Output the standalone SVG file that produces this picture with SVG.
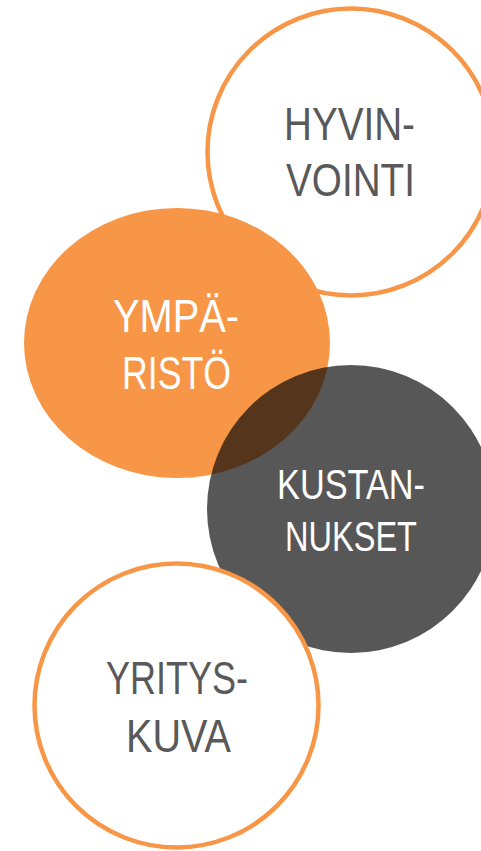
<svg xmlns="http://www.w3.org/2000/svg" width="481" height="851" viewBox="0 0 481 851">
<style>
.ring{fill:#ffffff;stroke:#F79646;stroke-width:4.5}
.t{font-family:"Liberation Sans",Arial,sans-serif;font-size:46px}
.g{fill:#595959}
.w{fill:#ffffff}
</style>
<rect width="481" height="851" fill="#ffffff"/>
<g id="hyvinvointi">
<circle class="ring" cx="351" cy="152" r="143.5"/>
<text class="t g" x="284" y="140" textLength="131" lengthAdjust="spacingAndGlyphs">HYVIN-</text>
<text class="t g" x="286" y="196" textLength="129" lengthAdjust="spacingAndGlyphs">VOINTI</text>
</g>
<g id="ymparisto">
<ellipse cx="177" cy="343" rx="153" ry="135" fill="#F79646"/>
<text class="t w" x="113" y="332" textLength="126" lengthAdjust="spacingAndGlyphs">YMPÄ-</text>
<text class="t w" x="122" y="389" textLength="109" lengthAdjust="spacingAndGlyphs">RISTÖ</text>
</g>
<g id="kustannukset">
<circle cx="351" cy="509" r="144" fill="#0c0c0c" fill-opacity="0.69"/>
<text class="t w" x="277" y="499" font-size="43" style="font-size:43px" textLength="148" lengthAdjust="spacingAndGlyphs">KUSTAN-</text>
<text class="t w" x="285" y="551" style="font-size:43px" textLength="132" lengthAdjust="spacingAndGlyphs">NUKSET</text>
</g>
<g id="yrityskuva">
<circle class="ring" cx="176.5" cy="705.5" r="142"/>
<text class="t g" x="106" y="694" textLength="142" lengthAdjust="spacingAndGlyphs">YRITYS-</text>
<text class="t g" x="126" y="752" textLength="105" lengthAdjust="spacingAndGlyphs">KUVA</text>
</g>
<g id="connectors"/>
</svg>
